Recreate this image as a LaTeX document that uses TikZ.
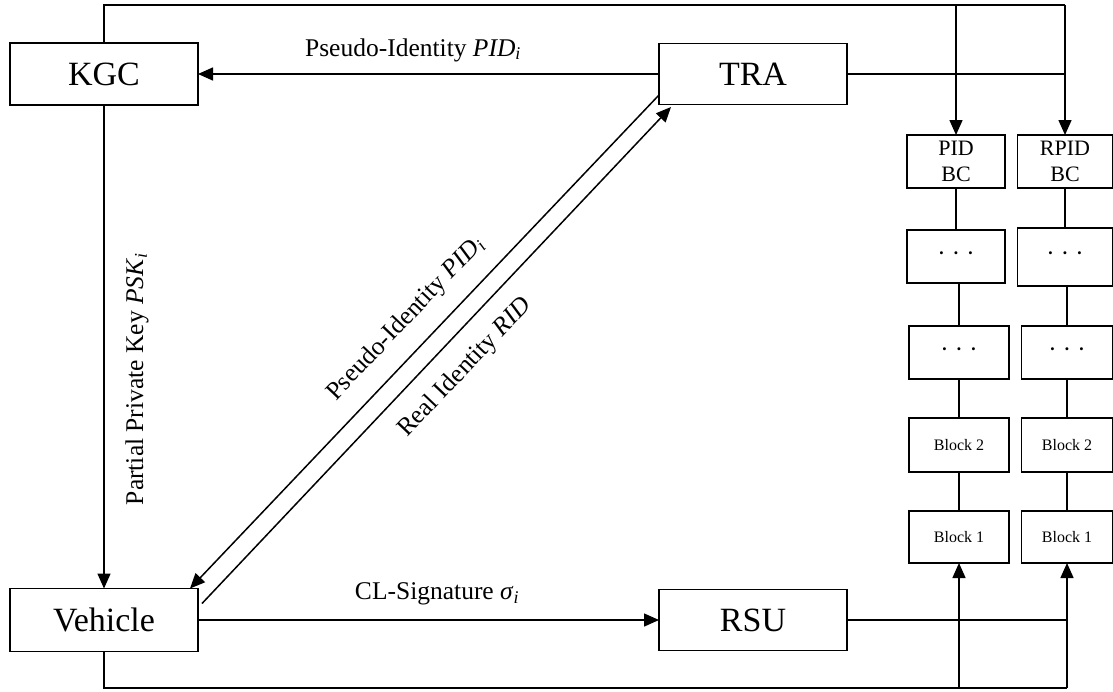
\documentclass[tikz,border=0pt]{standalone}
\usepackage{fontspec}
\setmainfont{Liberation Serif}
\usetikzlibrary{arrows.meta}
\begin{document}
\begin{tikzpicture}[x=1pt,y=-1pt,
  box/.style={draw, line width=1.5pt, inner sep=0pt, outer sep=0pt, minimum width=188pt, minimum height=62pt, font=\fontsize{34}{38}\selectfont},
  chainbox/.style={draw, line width=1.5pt, inner sep=0pt, outer sep=0pt, minimum width=98pt, minimum height=53pt},
  bcfont/.style={font=\fontsize{22}{26}\selectfont, align=center},
  dotfont/.style={font=\fontsize{25}{28}\selectfont},
  blkfont/.style={font=\fontsize{16}{19}\selectfont},
  conn/.style={line width=1.5pt},
  arr/.style={conn, -{Triangle[length=15pt,width=13pt]}},
  lbl/.style={font=\fontsize{25.5}{30}\selectfont, inner sep=0pt},
]
\useasboundingbox (0,0) rectangle (1113,691);
% main boxes
\node[box] (kgc) at (104,74) {KGC};
\node[box, minimum height=61pt] (tra) at (753,74) {TRA};
\node[box, minimum height=63pt] (veh) at (104,620) {Vehicle};
\node[box, minimum height=61pt] (rsu) at (753,620) {RSU};
% PID chain
\node[chainbox, bcfont] (pidbc) at (956,161.5) {PID\\BC};
\node[chainbox, dotfont] (pidd1) at (956,256.5) {· · ·};
\node[chainbox, dotfont, minimum width=100pt] (pidd2) at (959,352.5) {· · ·};
\node[chainbox, blkfont, minimum width=100pt, minimum height=54pt] (pidb2) at (959,445) {Block 2};
\node[chainbox, blkfont, minimum width=100pt, minimum height=52pt] (pidb1) at (959,537) {Block 1};
% RPID chain
\node[chainbox, bcfont, minimum width=95pt] (rpidbc) at (1065,161.5) {RPID\\BC};
\node[chainbox, dotfont, minimum width=95pt, minimum height=58pt] (rpidd1) at (1065,257) {· · ·};
\node[chainbox, dotfont, minimum width=91pt] (rpidd2) at (1067,352.5) {· · ·};
\node[chainbox, blkfont, minimum width=91pt, minimum height=54pt] (rpidb2) at (1067,445) {Block 2};
\node[chainbox, blkfont, minimum width=91pt, minimum height=52pt] (rpidb1) at (1067,537) {Block 1};
% chain links
\draw[conn] (pidbc.south) -- (pidd1.north);
\draw[conn] (pidd2.north |- pidd1.south) -- (pidd2.north);
\draw[conn] (pidd2.south) -- (pidb2.north);
\draw[conn] (pidb2.south) -- (pidb1.north);
\draw[conn] (rpidbc.south) -- (rpidd1.north);
\draw[conn] (rpidd2.north |- rpidd1.south) -- (rpidd2.north);
\draw[conn] (rpidd2.south) -- (rpidb2.north);
\draw[conn] (rpidb2.south) -- (rpidb1.north);
% top bus
\coordinate (topR) at (1065,5);
\draw[conn] (kgc.north) |- (topR);
\draw[arr] (topR) -- (rpidbc.north);
\draw[arr] (pidbc.north |- topR) -- (pidbc.north);
\draw[conn] (tra.east) -- (tra.east -| topR);
% bottom bus
\coordinate (botR) at (1067,688);
\draw[conn] (veh.south) |- (botR);
\draw[arr] (botR) -- (rpidb1.south);
\draw[arr] (pidb1.south |- botR) -- (pidb1.south);
\draw[conn] (rsu.east) -- (rsu.east -| botR);
% horizontal arrows
\draw[arr] (tra.west) -- (kgc.east);
\node[lbl] (lpid) at (413,50) {Pseudo-Identity \textit{PID}\textsubscript{\textit{i}}};
\draw[arr] (veh.east) -- (rsu.west);
\node[lbl] (lcl) at (437,594) {CL-Signature \textit{σ}\textsubscript{\textit{i}}};
% vertical arrow
\draw[arr] (kgc.south) -- (veh.north);
\node[lbl, rotate=90] (lpsk) at (137,379) {Partial Private Key \textit{PSK}\textsubscript{\textit{i}}};
% diagonals
\coordinate (a1) at ([yshift=9.5pt]tra.south west);
\coordinate (a2) at ([xshift=-8pt]veh.north east);
\coordinate (b1) at ([xshift=4pt,yshift=-15pt]veh.north east);
\coordinate (b2) at ([xshift=12pt,yshift=-2.5pt]tra.south west);
\draw[arr] (a1) -- (a2);
\draw[arr] (b1) -- (b2);
\node[lbl, rotate=46.5] (ldpid) at (406,319) {Pseudo-Identity \textit{PID}\textsubscript{\textit{i}}};
\node[lbl, rotate=46.5] (lrid) at (465,368) {Real Identity \textit{RID}};
\end{tikzpicture}
\end{document}
